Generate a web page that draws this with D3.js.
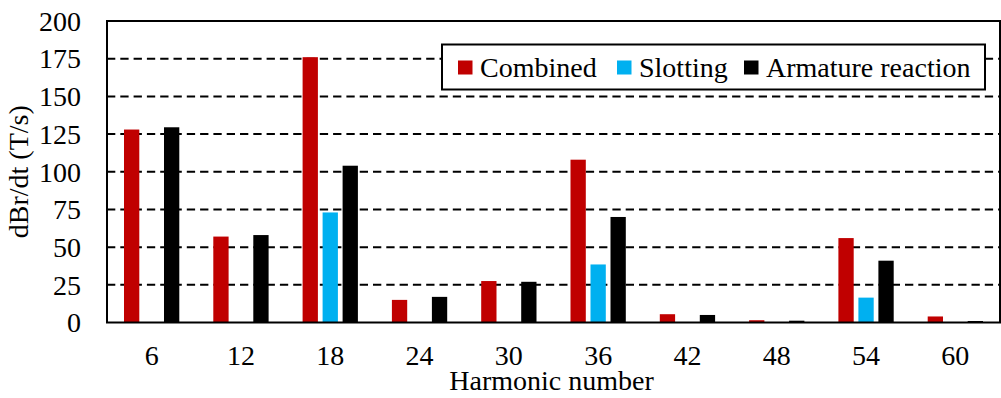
<!DOCTYPE html>
<html>
<head>
<meta charset="utf-8">
<script src="https://cdn.jsdelivr.net/npm/d3@7/dist/d3.min.js"></script>
<style>
  html, body { margin: 0; padding: 0; background: #fff; }
  svg { display: block; }
  svg text { font-family: "Liberation Serif", "Times New Roman", Times, "DejaVu Serif", serif !important; fill: #000; }
</style>
</head>
<body>
<svg id="chart" width="1001" height="398"></svg>
<script>
// Harmonic orders on the x axis
const harmonics = ["6", "12", "18", "24", "30", "36", "42", "48", "54", "60"];
// Series names and colours
const seriesNames = ["Combined", "Slotting", "Armature reaction"];
const seriesColors = ["#C00000", "#00B0F0", "#000000"];
// dBr/dt amplitude per harmonic (T/s)
const combined = [128, 57, 176, 15, 27.5, 108, 5.5, 1.5, 56, 4];
const slotting = [0, 0, 73, 0, 0, 38.5, 0, 0, 16.5, 0];
const armature = [129.5, 58, 104, 17, 27, 70, 5, 1.2, 41, 1];
// Y axis ticks
const yTicks = [0, 25, 50, 75, 100, 125, 150, 175, 200];

const FONT = '"Liberation Serif", "Times New Roman", Times, "DejaVu Serif", serif';

const seriesValues = [combined, slotting, armature];
const rows = harmonics.map((h, i) => ({
  h,
  vals: seriesNames.map((s, k) => ({ s, k, v: seriesValues[k][i] }))
}));

const svg = d3.select("#chart");
const plotLeft = 107, plotRight = 1000, plotTop = 21, plotBottom = 322.5;

const x0 = d3.scaleBand().domain(harmonics).range([plotLeft, plotRight]).padding(0);
const x1 = d3.scaleBand().domain(seriesNames).range([0, x0.bandwidth()])
  .paddingInner(0.235).paddingOuter(0.85);
const y = d3.scaleLinear().domain([0, 200]).range([plotBottom, plotTop]);

// dashed horizontal gridlines
svg.append("g")
  .selectAll("line")
  .data(yTicks.filter(t => t > 0 && t < 200))
  .join("line")
  .attr("x1", plotLeft).attr("x2", plotRight)
  .attr("y1", d => y(d)).attr("y2", d => y(d))
  .attr("stroke", "#000")
  .attr("stroke-width", 2)
  .attr("stroke-dasharray", "8.3,5");

// bars
svg.append("g")
  .selectAll("g")
  .data(rows)
  .join("g")
  .attr("transform", d => `translate(${x0(d.h)},0)`)
  .selectAll("rect")
  .data(d => d.vals.filter(e => e.v > 0))
  .join("rect")
  .attr("x", e => x1(e.s))
  .attr("width", x1.bandwidth())
  .attr("y", e => y(e.v))
  .attr("height", e => y(0) - y(e.v))
  .attr("fill", e => seriesColors[e.k]);

// plot frame
svg.append("rect")
  .attr("x", plotLeft).attr("y", plotTop)
  .attr("width", plotRight - plotLeft).attr("height", plotBottom - plotTop)
  .attr("fill", "none").attr("stroke", "#000").attr("stroke-width", 2);

// y axis
const yAxis = d3.axisLeft(y).tickValues(yTicks).tickSize(0).tickPadding(26);
const gy = svg.append("g").attr("transform", `translate(${plotLeft},0)`).call(yAxis);
gy.attr("font-family", FONT).attr("font-size", 28);
gy.select(".domain").remove();
gy.selectAll("text").attr("fill", "#000").attr("dy", "0.33em");

// x axis
const xAxis = d3.axisBottom(x0).tickSize(0).tickPadding(23);
const gx = svg.append("g").attr("transform", `translate(0,${plotBottom})`).call(xAxis);
gx.attr("font-family", FONT).attr("font-size", 28);
gx.select(".domain").remove();
gx.selectAll("text").attr("fill", "#000");

// axis titles
svg.append("text")
  .attr("x", (plotLeft + plotRight) / 2 - 2)
  .attr("y", 390)
  .attr("text-anchor", "middle")
  .attr("font-family", FONT)
  .attr("font-size", 28)
  .text("Harmonic number");

svg.append("text")
  .attr("transform", `translate(28,${(plotTop + plotBottom) / 2}) rotate(-90)`)
  .attr("text-anchor", "middle")
  .attr("font-family", FONT)
  .attr("font-size", 28)
  .text("dBr/dt (T/s)");

// legend
const legend = svg.append("g");
legend.append("rect")
  .attr("x", 442).attr("y", 44.5)
  .attr("width", 543).attr("height", 45)
  .attr("fill", "#fff").attr("stroke", "#000").attr("stroke-width", 2);
const legendX = [458, 617, 744];
seriesNames.forEach((s, k) => {
  legend.append("rect")
    .attr("x", legendX[k]).attr("y", 60.5)
    .attr("width", 14.5).attr("height", 14)
    .attr("fill", seriesColors[k]);
  legend.append("text")
    .attr("x", legendX[k] + 22).attr("y", 77)
    .attr("font-family", FONT)
    .attr("font-size", 28)
    .text(s);
});
</script>
</body>
</html>
